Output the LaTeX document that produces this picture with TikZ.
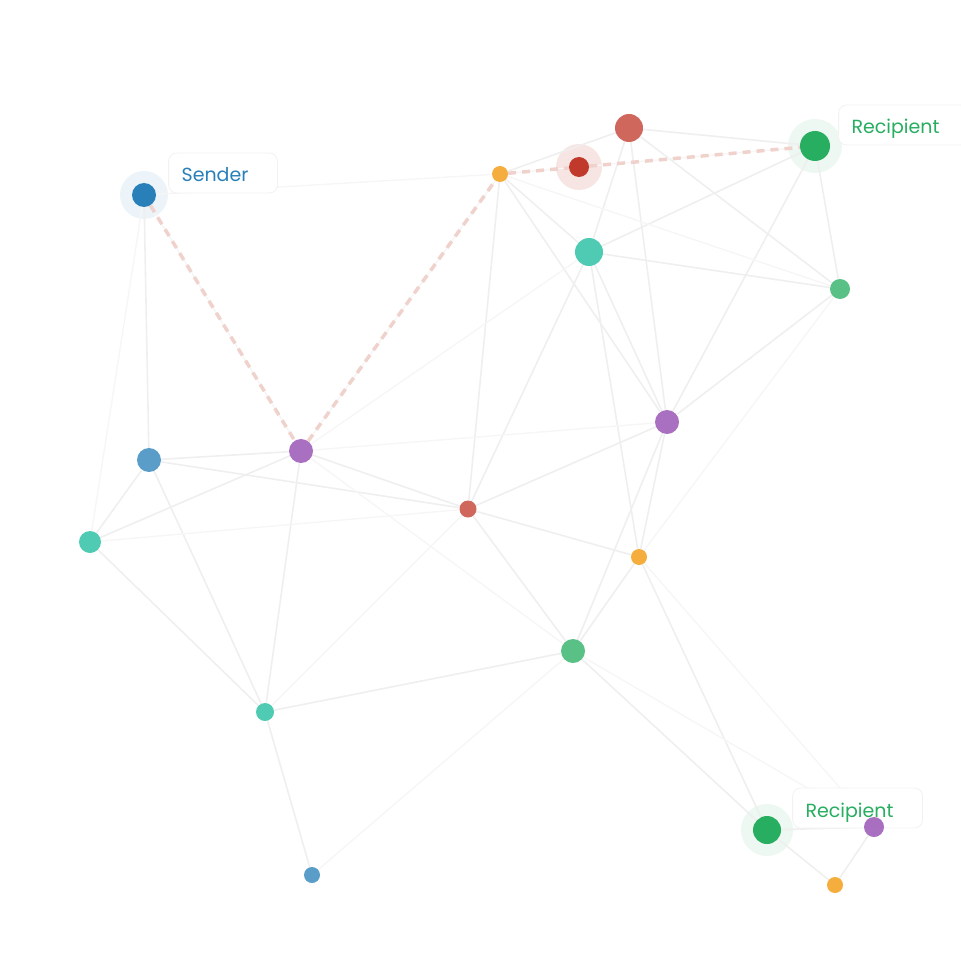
\documentclass[tikz,border=0pt]{standalone}
\usepackage{fontspec}
\newfontfamily\tagfont{Poppins}
\usetikzlibrary{positioning}
\definecolor{cblue}{HTML}{2980B9}
\definecolor{lblue}{HTML}{5499C7}
\definecolor{cred}{HTML}{C0392B}
\definecolor{lred}{HTML}{CD6155}
\definecolor{cgreen}{HTML}{27AE60}
\definecolor{lgreen}{HTML}{52BE80}
\definecolor{cteal}{HTML}{48C9B0}
\definecolor{cpurple}{HTML}{A569BD}
\definecolor{corange}{HTML}{F5AB35}
\definecolor{routec}{HTML}{F0D2CD}
\definecolor{linkc}{HTML}{EFEFEF}
\definecolor{faintc}{HTML}{F6F6F6}
\pgfdeclarelayer{halos}
\pgfdeclarelayer{links}
\pgfsetlayers{halos,links,main}

\begin{document}
\begin{tikzpicture}[x=1pt,y=-1pt,
   vtx/.style 2 args={circle,fill=#1,minimum size=#2,inner sep=0pt,fill opacity=0.96},
   halo/.style 2 args={circle,fill=#1,minimum size=#2,inner sep=0pt},
   link/.style={draw=linkc,line width=1.6pt},
   faint/.style={draw=faintc,line width=1.4pt},
   route/.style={draw=routec,line width=3.5pt,dash pattern=on 8pt off 6pt},
   tag/.style={fill=white,draw=black!5,line width=0.8pt,rounded corners=8pt,
     minimum height=40pt,inner xsep=13pt,text height=20pt,text depth=2pt,
     font=\tagfont\fontsize{19}{21}\selectfont}]
\useasboundingbox (0,0) rectangle (960,976);

% halos round the end points
\begin{pgfonlayer}{halos}
\node[halo={cblue!9}{48pt}] (shalo) at (144,195) {};
\node[halo={cred!13}{46pt}] (bhalo) at (579,167) {};
\node[halo={cgreen!9}{54pt}] (rhalo) at (815,146) {};
\node[halo={cgreen!9}{52pt}] (qhalo) at (767,830) {};
\end{pgfonlayer}

% labels
\node[tag,right=0pt of shalo.east,yshift=22pt] (sendtag) {\textcolor{cblue}{Sender}\kern16pt};
\node[tag,right=-4pt of rhalo.east,yshift=21pt] (recvtag) {\textcolor{cgreen}{Recipient}\kern16pt};
\node[tag,right=-1pt of qhalo.east,yshift=22pt] (recvtagb) {\textcolor{cgreen}{Recipient}\kern16pt};

% peers
\node[vtx={cblue}{24pt},fill opacity=1] (s) at (144,195) {};
\node[vtx={corange}{16pt}] (a) at (500,174) {};
\node[vtx={cred}{20pt},fill opacity=1] (b) at (579,167) {};
\node[vtx={lred}{28pt}] (c) at (629,128) {};
\node[vtx={cgreen}{30pt},fill opacity=1] (r) at (815,146) {};
\node[vtx={cteal}{28pt}] (d) at (589,252) {};
\node[vtx={lgreen}{20pt}] (e) at (840,289) {};
\node[vtx={cpurple}{24pt}] (f) at (667,422) {};
\node[vtx={cpurple}{24pt}] (g) at (301,451) {};
\node[vtx={lblue}{24pt}] (h) at (149,460) {};
\node[vtx={cteal}{22pt}] (i) at (90,542) {};
\node[vtx={lred}{17pt}] (j) at (468,509) {};
\node[vtx={corange}{16pt}] (k) at (639,557) {};
\node[vtx={lgreen}{24pt}] (l) at (573,651) {};
\node[vtx={cteal}{18pt}] (m) at (265,712) {};
\node[vtx={lblue}{16pt}] (n) at (312,875) {};
\node[vtx={cgreen}{28pt},fill opacity=1] (q) at (767,830) {};
\node[vtx={cpurple}{20pt}] (p) at (874,827) {};
\node[vtx={corange}{16pt}] (o) at (835,885) {};

\begin{pgfonlayer}{links}
\foreach \u/\v in {s/h,a/c,c/r,c/d,c/f,c/e,d/r,d/e,d/f,d/k,d/j,a/f,a/j,a/d,
   r/e,r/f,f/e,f/k,f/l,f/j,g/h,g/i,g/j,g/m,h/i,h/m,j/k,j/l,k/l,l/m,l/q,
   k/q,m/n,q/p,q/o,p/o,i/m,h/j}
  \draw[link] (\u) -- (\v);
\foreach \u/\v in {s/i,s/a,s/g,g/a,a/b,b/r,d/g,a/e,e/k,g/f,i/j,j/m,l/n,k/p,l/p,g/l}
  \draw[faint] (\u) -- (\v);
% the chosen route
\draw[route] (s) -- (g) -- (a) -- (b) -- (r);
\end{pgfonlayer}
\end{tikzpicture}
\end{document}
